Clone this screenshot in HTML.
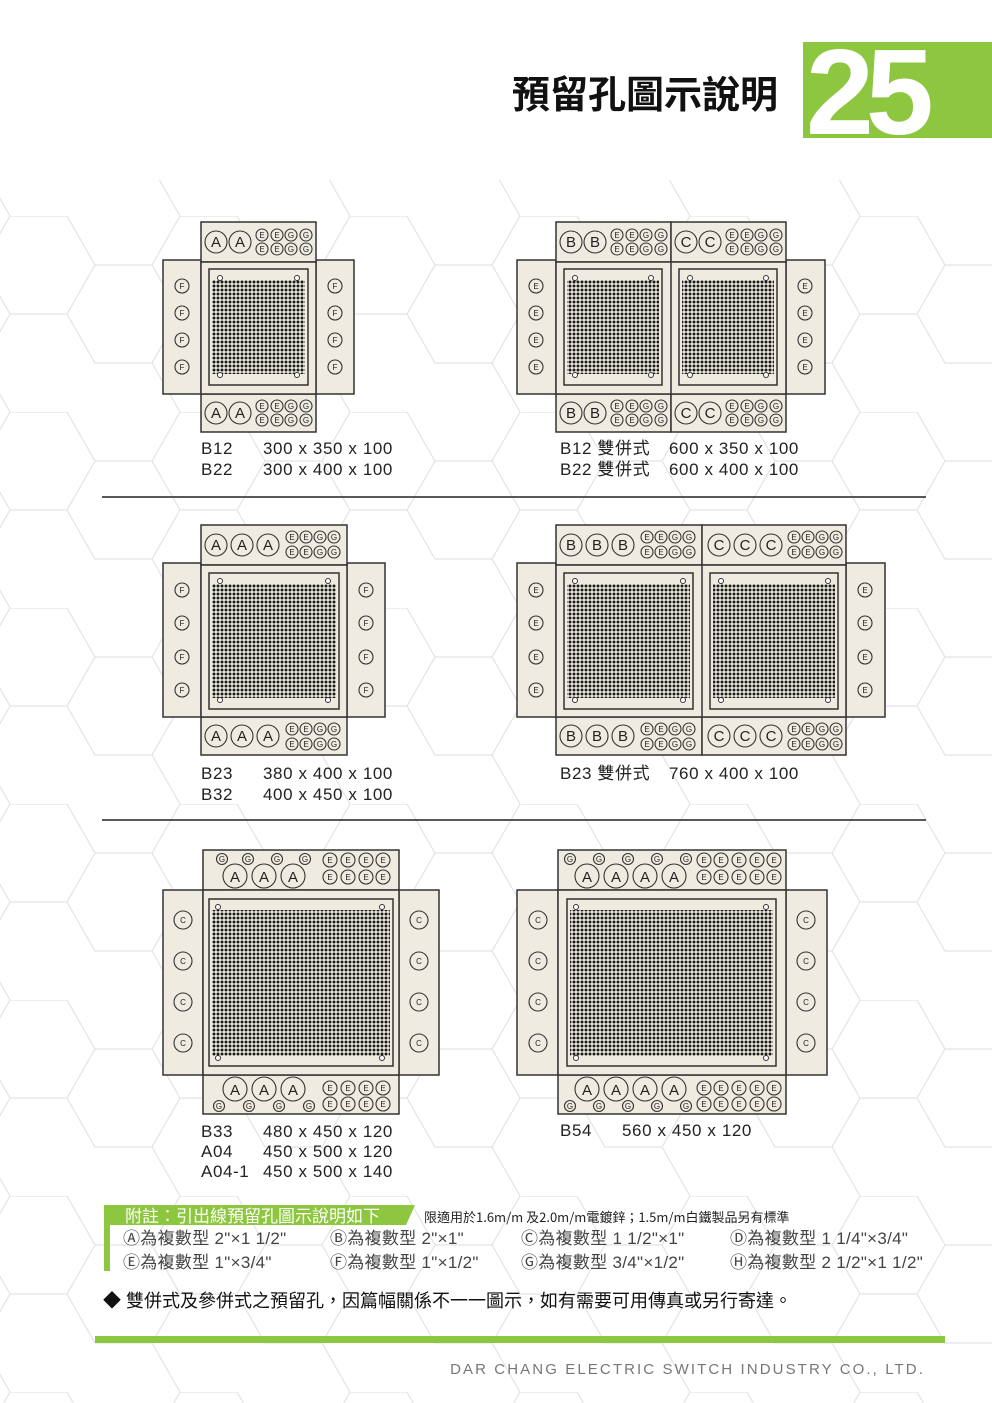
<!DOCTYPE html>
<html><head><meta charset="utf-8">
<style>
html,body{margin:0;padding:0;background:#fff}
body{width:992px;height:1403px;position:relative;overflow:hidden;font-family:"Liberation Sans","Noto Sans CJK TC",sans-serif}
svg{position:absolute;left:0;top:0}
.f{fill:#efebe0;stroke:#333;stroke-width:1.5}
.i{fill:none;stroke:#333;stroke-width:1.5}
.h{fill:#fff;stroke:#333;stroke-width:1}
.c{fill:#efebe0;stroke:#333;stroke-width:1.1}
.L{font-family:"Liberation Sans",sans-serif;font-size:15px;text-anchor:middle;fill:#222}
.m{font-family:"Liberation Sans",sans-serif;font-size:8px;text-anchor:middle;fill:#222}
.t{font-family:"Liberation Sans","Noto Sans CJK TC",sans-serif;font-size:17px;letter-spacing:0.6px;fill:#222}
.n{font-family:"Liberation Sans","Noto Sans CJK TC",sans-serif;font-size:17px;letter-spacing:0.3px;fill:#444}
</style></head><body>
<svg width="992" height="1403" viewBox="0 0 992 1403">
<defs>
<pattern id="hex" width="170" height="196" patternUnits="userSpaceOnUse" x="10" y="20">
<path d="M0 0 L57 0 L85 49 L57 98 L0 98 L-28 49 Z M85 49 L142 49 L170 98 L142 147 L85 147 L57 98 M142 49 L170 0 M142 147 L170 196 M57 98 L85 147 M0 98 L-28 147 L0 196" fill="none" stroke="#e3e3e3" stroke-width="1.2"/>
</pattern>
<pattern id="dots" width="4" height="4" patternUnits="userSpaceOnUse">
<circle cx="2" cy="2" r="1.5" fill="#1a1a1a"/>
</pattern>
</defs>
<rect width="992" height="1403" fill="url(#hex)"/>
<rect x="0" y="0" width="992" height="180" fill="#fff"/>
<!-- header -->
<text x="645" y="108" style="font-family:'Noto Sans CJK TC',sans-serif;font-size:38px;font-weight:bold;text-anchor:middle;fill:#111">預留孔圖示說明</text>
<rect x="803" y="42" width="189" height="96" fill="#8dc63f"/>
<text x="806" y="134" style="font-family:'Liberation Sans',sans-serif;font-size:122px;font-weight:bold;fill:#fff;letter-spacing:-8px">25</text>

<!-- ===== Diagram 1 ===== -->
<rect class="f" x="163" y="260" width="38" height="134"/>
<rect class="f" x="316" y="260" width="38" height="134"/>
<rect class="f" x="201" y="222" width="115" height="40"/>
<rect class="f" x="201" y="394" width="115" height="38"/>
<rect class="f" x="201" y="262" width="115" height="132"/>
<rect class="i" x="209" y="269" width="99" height="116"/>
<rect x="212" y="280" width="93" height="94" fill="url(#dots)"/>
<circle class="h" cx="220" cy="278" r="2.5"/><circle class="h" cx="297" cy="278" r="2.5"/><circle class="h" cx="220" cy="375" r="2.5"/><circle class="h" cx="297" cy="375" r="2.5"/>
<g>
<circle class="c" cx="216" cy="242" r="11"/><text class="L" x="216" y="247">A</text>
<circle class="c" cx="240" cy="242" r="11"/><text class="L" x="240" y="247">A</text>
<circle class="c" cx="262" cy="235" r="6"/><text class="m" x="262" y="238">E</text>
<circle class="c" cx="277" cy="235" r="6"/><text class="m" x="277" y="238">E</text>
<circle class="c" cx="291" cy="235" r="6"/><text class="m" x="291" y="238">G</text>
<circle class="c" cx="306" cy="235" r="6"/><text class="m" x="306" y="238">G</text>
<circle class="c" cx="262" cy="249" r="6"/><text class="m" x="262" y="252">E</text>
<circle class="c" cx="277" cy="249" r="6"/><text class="m" x="277" y="252">E</text>
<circle class="c" cx="291" cy="249" r="6"/><text class="m" x="291" y="252">G</text>
<circle class="c" cx="306" cy="249" r="6"/><text class="m" x="306" y="252">G</text>
</g>
<g>
<circle class="c" cx="216" cy="413" r="11"/><text class="L" x="216" y="418">A</text>
<circle class="c" cx="240" cy="413" r="11"/><text class="L" x="240" y="418">A</text>
<circle class="c" cx="262" cy="406" r="6"/><text class="m" x="262" y="409">E</text>
<circle class="c" cx="277" cy="406" r="6"/><text class="m" x="277" y="409">E</text>
<circle class="c" cx="291" cy="406" r="6"/><text class="m" x="291" y="409">G</text>
<circle class="c" cx="306" cy="406" r="6"/><text class="m" x="306" y="409">G</text>
<circle class="c" cx="262" cy="420" r="6"/><text class="m" x="262" y="423">E</text>
<circle class="c" cx="277" cy="420" r="6"/><text class="m" x="277" y="423">E</text>
<circle class="c" cx="291" cy="420" r="6"/><text class="m" x="291" y="423">G</text>
<circle class="c" cx="306" cy="420" r="6"/><text class="m" x="306" y="423">G</text>
</g>
<g>
<circle class="c" cx="182" cy="286" r="7"/><text class="m" x="182" y="289">F</text>
<circle class="c" cx="182" cy="313" r="7"/><text class="m" x="182" y="316">F</text>
<circle class="c" cx="182" cy="340" r="7"/><text class="m" x="182" y="343">F</text>
<circle class="c" cx="182" cy="367" r="7"/><text class="m" x="182" y="370">F</text>
<circle class="c" cx="335" cy="286" r="7"/><text class="m" x="335" y="289">F</text>
<circle class="c" cx="335" cy="313" r="7"/><text class="m" x="335" y="316">F</text>
<circle class="c" cx="335" cy="340" r="7"/><text class="m" x="335" y="343">F</text>
<circle class="c" cx="335" cy="367" r="7"/><text class="m" x="335" y="370">F</text>
</g>
<text class="t" x="201" y="454">B12</text><text class="t" x="263" y="454">300 x 350 x 100</text>
<text class="t" x="201" y="475">B22</text><text class="t" x="263" y="475">300 x 400 x 100</text>

<!-- ===== Diagram 2 ===== -->
<rect class="f" x="517" y="260" width="39" height="134"/>
<rect class="f" x="786" y="260" width="39" height="134"/>
<rect class="f" x="556" y="222" width="115" height="40"/>
<rect class="f" x="671" y="222" width="115" height="40"/>
<rect class="f" x="556" y="394" width="115" height="38"/>
<rect class="f" x="671" y="394" width="115" height="38"/>
<rect class="f" x="556" y="262" width="230" height="132"/>
<line x1="671" y1="262" x2="671" y2="394" stroke="#333" stroke-width="1.5"/>
<rect class="i" x="564" y="269" width="98" height="116"/>
<rect class="i" x="679" y="269" width="98" height="116"/>
<rect x="567" y="280" width="92" height="94" fill="url(#dots)"/>
<rect x="682" y="280" width="92" height="94" fill="url(#dots)"/>
<circle class="h" cx="575" cy="278" r="2.5"/><circle class="h" cx="651" cy="278" r="2.5"/><circle class="h" cx="575" cy="375" r="2.5"/><circle class="h" cx="651" cy="375" r="2.5"/>
<circle class="h" cx="690" cy="278" r="2.5"/><circle class="h" cx="766" cy="278" r="2.5"/><circle class="h" cx="690" cy="375" r="2.5"/><circle class="h" cx="766" cy="375" r="2.5"/>
<g>
<circle class="c" cx="571" cy="242" r="11"/><text class="L" x="571" y="247">B</text>
<circle class="c" cx="595" cy="242" r="11"/><text class="L" x="595" y="247">B</text>
<circle class="c" cx="617" cy="235" r="6"/><text class="m" x="617" y="238">E</text>
<circle class="c" cx="632" cy="235" r="6"/><text class="m" x="632" y="238">E</text>
<circle class="c" cx="646" cy="235" r="6"/><text class="m" x="646" y="238">G</text>
<circle class="c" cx="661" cy="235" r="6"/><text class="m" x="661" y="238">G</text>
<circle class="c" cx="617" cy="249" r="6"/><text class="m" x="617" y="252">E</text>
<circle class="c" cx="632" cy="249" r="6"/><text class="m" x="632" y="252">E</text>
<circle class="c" cx="646" cy="249" r="6"/><text class="m" x="646" y="252">G</text>
<circle class="c" cx="661" cy="249" r="6"/><text class="m" x="661" y="252">G</text>
<circle class="c" cx="686" cy="242" r="11"/><text class="L" x="686" y="247">C</text>
<circle class="c" cx="710" cy="242" r="11"/><text class="L" x="710" y="247">C</text>
<circle class="c" cx="732" cy="235" r="6"/><text class="m" x="732" y="238">E</text>
<circle class="c" cx="747" cy="235" r="6"/><text class="m" x="747" y="238">E</text>
<circle class="c" cx="761" cy="235" r="6"/><text class="m" x="761" y="238">G</text>
<circle class="c" cx="776" cy="235" r="6"/><text class="m" x="776" y="238">G</text>
<circle class="c" cx="732" cy="249" r="6"/><text class="m" x="732" y="252">E</text>
<circle class="c" cx="747" cy="249" r="6"/><text class="m" x="747" y="252">E</text>
<circle class="c" cx="761" cy="249" r="6"/><text class="m" x="761" y="252">G</text>
<circle class="c" cx="776" cy="249" r="6"/><text class="m" x="776" y="252">G</text>
</g>
<g>
<circle class="c" cx="571" cy="413" r="11"/><text class="L" x="571" y="418">B</text>
<circle class="c" cx="595" cy="413" r="11"/><text class="L" x="595" y="418">B</text>
<circle class="c" cx="617" cy="406" r="6"/><text class="m" x="617" y="409">E</text>
<circle class="c" cx="632" cy="406" r="6"/><text class="m" x="632" y="409">E</text>
<circle class="c" cx="646" cy="406" r="6"/><text class="m" x="646" y="409">G</text>
<circle class="c" cx="661" cy="406" r="6"/><text class="m" x="661" y="409">G</text>
<circle class="c" cx="617" cy="420" r="6"/><text class="m" x="617" y="423">E</text>
<circle class="c" cx="632" cy="420" r="6"/><text class="m" x="632" y="423">E</text>
<circle class="c" cx="646" cy="420" r="6"/><text class="m" x="646" y="423">G</text>
<circle class="c" cx="661" cy="420" r="6"/><text class="m" x="661" y="423">G</text>
<circle class="c" cx="686" cy="413" r="11"/><text class="L" x="686" y="418">C</text>
<circle class="c" cx="710" cy="413" r="11"/><text class="L" x="710" y="418">C</text>
<circle class="c" cx="732" cy="406" r="6"/><text class="m" x="732" y="409">E</text>
<circle class="c" cx="747" cy="406" r="6"/><text class="m" x="747" y="409">E</text>
<circle class="c" cx="761" cy="406" r="6"/><text class="m" x="761" y="409">G</text>
<circle class="c" cx="776" cy="406" r="6"/><text class="m" x="776" y="409">G</text>
<circle class="c" cx="732" cy="420" r="6"/><text class="m" x="732" y="423">E</text>
<circle class="c" cx="747" cy="420" r="6"/><text class="m" x="747" y="423">E</text>
<circle class="c" cx="761" cy="420" r="6"/><text class="m" x="761" y="423">G</text>
<circle class="c" cx="776" cy="420" r="6"/><text class="m" x="776" y="423">G</text>
</g>
<g>
<circle class="c" cx="536" cy="286" r="7"/><text class="m" x="536" y="289">E</text>
<circle class="c" cx="536" cy="313" r="7"/><text class="m" x="536" y="316">E</text>
<circle class="c" cx="536" cy="340" r="7"/><text class="m" x="536" y="343">E</text>
<circle class="c" cx="536" cy="367" r="7"/><text class="m" x="536" y="370">E</text>
<circle class="c" cx="805" cy="286" r="7"/><text class="m" x="805" y="289">E</text>
<circle class="c" cx="805" cy="313" r="7"/><text class="m" x="805" y="316">E</text>
<circle class="c" cx="805" cy="340" r="7"/><text class="m" x="805" y="343">E</text>
<circle class="c" cx="805" cy="367" r="7"/><text class="m" x="805" y="370">E</text>
</g>
<text class="t" x="560" y="454">B12 雙併式</text><text class="t" x="669" y="454">600 x 350 x 100</text>
<text class="t" x="560" y="475">B22 雙併式</text><text class="t" x="669" y="475">600 x 400 x 100</text>

<line x1="102" y1="497" x2="926" y2="497" stroke="#222" stroke-width="1.5"/>

<!-- ===== Diagram 3 ===== -->
<rect class="f" x="163" y="563" width="38" height="154"/>
<rect class="f" x="347" y="563" width="38" height="154"/>
<rect class="f" x="201" y="525" width="146" height="40"/>
<rect class="f" x="201" y="717" width="146" height="38"/>
<rect class="f" x="201" y="565" width="146" height="152"/>
<rect class="i" x="209" y="573" width="130" height="136"/>
<rect x="212" y="584" width="124" height="114" fill="url(#dots)"/>
<circle class="h" cx="220" cy="581" r="2.5"/><circle class="h" cx="328" cy="581" r="2.5"/><circle class="h" cx="220" cy="700" r="2.5"/><circle class="h" cx="328" cy="700" r="2.5"/>
<g>
<circle class="c" cx="216" cy="545" r="11"/><text class="L" x="216" y="550">A</text>
<circle class="c" cx="242" cy="545" r="11"/><text class="L" x="242" y="550">A</text>
<circle class="c" cx="268" cy="545" r="11"/><text class="L" x="268" y="550">A</text>
<circle class="c" cx="292" cy="537" r="6"/><text class="m" x="292" y="540">E</text>
<circle class="c" cx="306" cy="537" r="6"/><text class="m" x="306" y="540">E</text>
<circle class="c" cx="320" cy="537" r="6"/><text class="m" x="320" y="540">G</text>
<circle class="c" cx="334" cy="537" r="6"/><text class="m" x="334" y="540">G</text>
<circle class="c" cx="292" cy="552" r="6"/><text class="m" x="292" y="555">E</text>
<circle class="c" cx="306" cy="552" r="6"/><text class="m" x="306" y="555">E</text>
<circle class="c" cx="320" cy="552" r="6"/><text class="m" x="320" y="555">G</text>
<circle class="c" cx="334" cy="552" r="6"/><text class="m" x="334" y="555">G</text>
</g>
<g>
<circle class="c" cx="216" cy="736" r="11"/><text class="L" x="216" y="741">A</text>
<circle class="c" cx="242" cy="736" r="11"/><text class="L" x="242" y="741">A</text>
<circle class="c" cx="268" cy="736" r="11"/><text class="L" x="268" y="741">A</text>
<circle class="c" cx="292" cy="729" r="6"/><text class="m" x="292" y="732">E</text>
<circle class="c" cx="306" cy="729" r="6"/><text class="m" x="306" y="732">E</text>
<circle class="c" cx="320" cy="729" r="6"/><text class="m" x="320" y="732">G</text>
<circle class="c" cx="334" cy="729" r="6"/><text class="m" x="334" y="732">G</text>
<circle class="c" cx="292" cy="744" r="6"/><text class="m" x="292" y="747">E</text>
<circle class="c" cx="306" cy="744" r="6"/><text class="m" x="306" y="747">E</text>
<circle class="c" cx="320" cy="744" r="6"/><text class="m" x="320" y="747">G</text>
<circle class="c" cx="334" cy="744" r="6"/><text class="m" x="334" y="747">G</text>
</g>
<g>
<circle class="c" cx="182" cy="590" r="7"/><text class="m" x="182" y="593">F</text>
<circle class="c" cx="182" cy="623" r="7"/><text class="m" x="182" y="626">F</text>
<circle class="c" cx="182" cy="657" r="7"/><text class="m" x="182" y="660">F</text>
<circle class="c" cx="182" cy="690" r="7"/><text class="m" x="182" y="693">F</text>
<circle class="c" cx="366" cy="590" r="7"/><text class="m" x="366" y="593">F</text>
<circle class="c" cx="366" cy="623" r="7"/><text class="m" x="366" y="626">F</text>
<circle class="c" cx="366" cy="657" r="7"/><text class="m" x="366" y="660">F</text>
<circle class="c" cx="366" cy="690" r="7"/><text class="m" x="366" y="693">F</text>
</g>
<text class="t" x="201" y="779">B23</text><text class="t" x="263" y="779">380 x 400 x 100</text>
<text class="t" x="201" y="800">B32</text><text class="t" x="263" y="800">400 x 450 x 100</text>

<!-- ===== Diagram 4 ===== -->
<rect class="f" x="517" y="563" width="39" height="154"/>
<rect class="f" x="846" y="563" width="39" height="154"/>
<rect class="f" x="556" y="525" width="146" height="40"/>
<rect class="f" x="702" y="525" width="144" height="40"/>
<rect class="f" x="556" y="717" width="146" height="38"/>
<rect class="f" x="702" y="717" width="144" height="38"/>
<rect class="f" x="556" y="565" width="290" height="152"/>
<line x1="702" y1="565" x2="702" y2="717" stroke="#333" stroke-width="1.5"/>
<rect class="i" x="564" y="573" width="129" height="136"/>
<rect class="i" x="710" y="573" width="128" height="136"/>
<rect x="567" y="584" width="123" height="114" fill="url(#dots)"/>
<rect x="713" y="584" width="122" height="114" fill="url(#dots)"/>
<circle class="h" cx="575" cy="581" r="2.5"/><circle class="h" cx="683" cy="581" r="2.5"/><circle class="h" cx="575" cy="700" r="2.5"/><circle class="h" cx="683" cy="700" r="2.5"/>
<circle class="h" cx="721" cy="581" r="2.5"/><circle class="h" cx="828" cy="581" r="2.5"/><circle class="h" cx="721" cy="700" r="2.5"/><circle class="h" cx="828" cy="700" r="2.5"/>
<g>
<circle class="c" cx="571" cy="545" r="11"/><text class="L" x="571" y="550">B</text>
<circle class="c" cx="597" cy="545" r="11"/><text class="L" x="597" y="550">B</text>
<circle class="c" cx="623" cy="545" r="11"/><text class="L" x="623" y="550">B</text>
<circle class="c" cx="647" cy="537" r="6"/><text class="m" x="647" y="540">E</text>
<circle class="c" cx="661" cy="537" r="6"/><text class="m" x="661" y="540">E</text>
<circle class="c" cx="675" cy="537" r="6"/><text class="m" x="675" y="540">G</text>
<circle class="c" cx="689" cy="537" r="6"/><text class="m" x="689" y="540">G</text>
<circle class="c" cx="647" cy="552" r="6"/><text class="m" x="647" y="555">E</text>
<circle class="c" cx="661" cy="552" r="6"/><text class="m" x="661" y="555">E</text>
<circle class="c" cx="675" cy="552" r="6"/><text class="m" x="675" y="555">G</text>
<circle class="c" cx="689" cy="552" r="6"/><text class="m" x="689" y="555">G</text>
<circle class="c" cx="719" cy="545" r="11"/><text class="L" x="719" y="550">C</text>
<circle class="c" cx="745" cy="545" r="11"/><text class="L" x="745" y="550">C</text>
<circle class="c" cx="771" cy="545" r="11"/><text class="L" x="771" y="550">C</text>
<circle class="c" cx="794" cy="537" r="6"/><text class="m" x="794" y="540">E</text>
<circle class="c" cx="808" cy="537" r="6"/><text class="m" x="808" y="540">E</text>
<circle class="c" cx="822" cy="537" r="6"/><text class="m" x="822" y="540">G</text>
<circle class="c" cx="836" cy="537" r="6"/><text class="m" x="836" y="540">G</text>
<circle class="c" cx="794" cy="552" r="6"/><text class="m" x="794" y="555">E</text>
<circle class="c" cx="808" cy="552" r="6"/><text class="m" x="808" y="555">E</text>
<circle class="c" cx="822" cy="552" r="6"/><text class="m" x="822" y="555">G</text>
<circle class="c" cx="836" cy="552" r="6"/><text class="m" x="836" y="555">G</text>
</g>
<g>
<circle class="c" cx="571" cy="736" r="11"/><text class="L" x="571" y="741">B</text>
<circle class="c" cx="597" cy="736" r="11"/><text class="L" x="597" y="741">B</text>
<circle class="c" cx="623" cy="736" r="11"/><text class="L" x="623" y="741">B</text>
<circle class="c" cx="647" cy="729" r="6"/><text class="m" x="647" y="732">E</text>
<circle class="c" cx="661" cy="729" r="6"/><text class="m" x="661" y="732">E</text>
<circle class="c" cx="675" cy="729" r="6"/><text class="m" x="675" y="732">G</text>
<circle class="c" cx="689" cy="729" r="6"/><text class="m" x="689" y="732">G</text>
<circle class="c" cx="647" cy="744" r="6"/><text class="m" x="647" y="747">E</text>
<circle class="c" cx="661" cy="744" r="6"/><text class="m" x="661" y="747">E</text>
<circle class="c" cx="675" cy="744" r="6"/><text class="m" x="675" y="747">G</text>
<circle class="c" cx="689" cy="744" r="6"/><text class="m" x="689" y="747">G</text>
<circle class="c" cx="719" cy="736" r="11"/><text class="L" x="719" y="741">C</text>
<circle class="c" cx="745" cy="736" r="11"/><text class="L" x="745" y="741">C</text>
<circle class="c" cx="771" cy="736" r="11"/><text class="L" x="771" y="741">C</text>
<circle class="c" cx="794" cy="729" r="6"/><text class="m" x="794" y="732">E</text>
<circle class="c" cx="808" cy="729" r="6"/><text class="m" x="808" y="732">E</text>
<circle class="c" cx="822" cy="729" r="6"/><text class="m" x="822" y="732">G</text>
<circle class="c" cx="836" cy="729" r="6"/><text class="m" x="836" y="732">G</text>
<circle class="c" cx="794" cy="744" r="6"/><text class="m" x="794" y="747">E</text>
<circle class="c" cx="808" cy="744" r="6"/><text class="m" x="808" y="747">E</text>
<circle class="c" cx="822" cy="744" r="6"/><text class="m" x="822" y="747">G</text>
<circle class="c" cx="836" cy="744" r="6"/><text class="m" x="836" y="747">G</text>
</g>
<g>
<circle class="c" cx="536" cy="590" r="7"/><text class="m" x="536" y="593">E</text>
<circle class="c" cx="536" cy="623" r="7"/><text class="m" x="536" y="626">E</text>
<circle class="c" cx="536" cy="657" r="7"/><text class="m" x="536" y="660">E</text>
<circle class="c" cx="536" cy="690" r="7"/><text class="m" x="536" y="693">E</text>
<circle class="c" cx="865" cy="590" r="7"/><text class="m" x="865" y="593">E</text>
<circle class="c" cx="865" cy="623" r="7"/><text class="m" x="865" y="626">E</text>
<circle class="c" cx="865" cy="657" r="7"/><text class="m" x="865" y="660">E</text>
<circle class="c" cx="865" cy="690" r="7"/><text class="m" x="865" y="693">E</text>
</g>
<text class="t" x="560" y="779">B23 雙併式</text><text class="t" x="669" y="779">760 x 400 x 100</text>

<line x1="102" y1="820" x2="926" y2="820" stroke="#222" stroke-width="1.5"/>

<!-- ===== Diagram 5 ===== -->
<rect class="f" x="163" y="890" width="40" height="185"/>
<rect class="f" x="399" y="890" width="40" height="185"/>
<rect class="f" x="203" y="850" width="196" height="40"/>
<rect class="f" x="203" y="1075" width="196" height="39"/>
<rect class="f" x="203" y="890" width="196" height="185"/>
<rect class="i" x="209" y="899" width="184" height="167"/>
<rect x="212" y="910" width="178" height="146" fill="url(#dots)"/>
<circle class="h" cx="218" cy="907" r="2.5"/><circle class="h" cx="382" cy="907" r="2.5"/><circle class="h" cx="218" cy="1058" r="2.5"/><circle class="h" cx="382" cy="1058" r="2.5"/>
<g>
<circle class="c" cx="222" cy="859" r="5.5"/><text class="m" x="222" y="862">G</text>
<circle class="c" cx="248" cy="859" r="5.5"/><text class="m" x="248" y="862">G</text>
<circle class="c" cx="277" cy="859" r="5.5"/><text class="m" x="277" y="862">G</text>
<circle class="c" cx="305" cy="859" r="5.5"/><text class="m" x="305" y="862">G</text>
<circle class="c" cx="235" cy="876" r="12"/><text class="L" x="235" y="882">A</text>
<circle class="c" cx="264" cy="876" r="12"/><text class="L" x="264" y="882">A</text>
<circle class="c" cx="293" cy="876" r="12"/><text class="L" x="293" y="882">A</text>
<circle class="c" cx="330" cy="860" r="7"/><text class="m" x="330" y="863">E</text>
<circle class="c" cx="348" cy="860" r="7"/><text class="m" x="348" y="863">E</text>
<circle class="c" cx="366" cy="860" r="7"/><text class="m" x="366" y="863">E</text>
<circle class="c" cx="383" cy="860" r="7"/><text class="m" x="383" y="863">E</text>
<circle class="c" cx="330" cy="877" r="7"/><text class="m" x="330" y="880">E</text>
<circle class="c" cx="348" cy="877" r="7"/><text class="m" x="348" y="880">E</text>
<circle class="c" cx="366" cy="877" r="7"/><text class="m" x="366" y="880">E</text>
<circle class="c" cx="383" cy="877" r="7"/><text class="m" x="383" y="880">E</text>
</g>
<g>
<circle class="c" cx="235" cy="1089" r="12"/><text class="L" x="235" y="1095">A</text>
<circle class="c" cx="264" cy="1089" r="12"/><text class="L" x="264" y="1095">A</text>
<circle class="c" cx="293" cy="1089" r="12"/><text class="L" x="293" y="1095">A</text>
<circle class="c" cx="219" cy="1106" r="5.5"/><text class="m" x="219" y="1109">G</text>
<circle class="c" cx="249" cy="1106" r="5.5"/><text class="m" x="249" y="1109">G</text>
<circle class="c" cx="279" cy="1106" r="5.5"/><text class="m" x="279" y="1109">G</text>
<circle class="c" cx="309" cy="1106" r="5.5"/><text class="m" x="309" y="1109">G</text>
<circle class="c" cx="330" cy="1088" r="7"/><text class="m" x="330" y="1091">E</text>
<circle class="c" cx="348" cy="1088" r="7"/><text class="m" x="348" y="1091">E</text>
<circle class="c" cx="366" cy="1088" r="7"/><text class="m" x="366" y="1091">E</text>
<circle class="c" cx="383" cy="1088" r="7"/><text class="m" x="383" y="1091">E</text>
<circle class="c" cx="330" cy="1104" r="7"/><text class="m" x="330" y="1107">E</text>
<circle class="c" cx="348" cy="1104" r="7"/><text class="m" x="348" y="1107">E</text>
<circle class="c" cx="366" cy="1104" r="7"/><text class="m" x="366" y="1107">E</text>
<circle class="c" cx="383" cy="1104" r="7"/><text class="m" x="383" y="1107">E</text>
</g>
<g>
<circle class="c" cx="183" cy="920" r="9"/><text class="m" x="183" y="923">C</text>
<circle class="c" cx="183" cy="961" r="9"/><text class="m" x="183" y="964">C</text>
<circle class="c" cx="183" cy="1002" r="9"/><text class="m" x="183" y="1005">C</text>
<circle class="c" cx="183" cy="1043" r="9"/><text class="m" x="183" y="1046">C</text>
<circle class="c" cx="419" cy="920" r="9"/><text class="m" x="419" y="923">C</text>
<circle class="c" cx="419" cy="961" r="9"/><text class="m" x="419" y="964">C</text>
<circle class="c" cx="419" cy="1002" r="9"/><text class="m" x="419" y="1005">C</text>
<circle class="c" cx="419" cy="1043" r="9"/><text class="m" x="419" y="1046">C</text>
</g>
<text class="t" x="201" y="1137">B33</text><text class="t" x="263" y="1137">480 x 450 x 120</text>
<text class="t" x="201" y="1157">A04</text><text class="t" x="263" y="1157">450 x 500 x 120</text>
<text class="t" x="201" y="1177">A04-1</text><text class="t" x="263" y="1177">450 x 500 x 140</text>

<!-- ===== Diagram 6 ===== -->
<rect class="f" x="517" y="890" width="41" height="185"/>
<rect class="f" x="786" y="890" width="41" height="185"/>
<rect class="f" x="558" y="850" width="228" height="40"/>
<rect class="f" x="558" y="1075" width="228" height="39"/>
<rect class="f" x="558" y="890" width="228" height="185"/>
<rect class="i" x="567" y="899" width="209" height="167"/>
<rect x="570" y="910" width="203" height="146" fill="url(#dots)"/>
<circle class="h" cx="576" cy="907" r="2.5"/><circle class="h" cx="766" cy="907" r="2.5"/><circle class="h" cx="576" cy="1058" r="2.5"/><circle class="h" cx="766" cy="1058" r="2.5"/>
<g>
<circle class="c" cx="570" cy="859" r="5.5"/><text class="m" x="570" y="862">G</text>
<circle class="c" cx="599" cy="859" r="5.5"/><text class="m" x="599" y="862">G</text>
<circle class="c" cx="628" cy="859" r="5.5"/><text class="m" x="628" y="862">G</text>
<circle class="c" cx="657" cy="859" r="5.5"/><text class="m" x="657" y="862">G</text>
<circle class="c" cx="686" cy="859" r="5.5"/><text class="m" x="686" y="862">G</text>
<circle class="c" cx="587" cy="876" r="12"/><text class="L" x="587" y="882">A</text>
<circle class="c" cx="616" cy="876" r="12"/><text class="L" x="616" y="882">A</text>
<circle class="c" cx="645" cy="876" r="12"/><text class="L" x="645" y="882">A</text>
<circle class="c" cx="674" cy="876" r="12"/><text class="L" x="674" y="882">A</text>
<circle class="c" cx="704" cy="860" r="7"/><text class="m" x="704" y="863">E</text>
<circle class="c" cx="721" cy="860" r="7"/><text class="m" x="721" y="863">E</text>
<circle class="c" cx="739" cy="860" r="7"/><text class="m" x="739" y="863">E</text>
<circle class="c" cx="757" cy="860" r="7"/><text class="m" x="757" y="863">E</text>
<circle class="c" cx="774" cy="860" r="7"/><text class="m" x="774" y="863">E</text>
<circle class="c" cx="704" cy="877" r="7"/><text class="m" x="704" y="880">E</text>
<circle class="c" cx="721" cy="877" r="7"/><text class="m" x="721" y="880">E</text>
<circle class="c" cx="739" cy="877" r="7"/><text class="m" x="739" y="880">E</text>
<circle class="c" cx="757" cy="877" r="7"/><text class="m" x="757" y="880">E</text>
<circle class="c" cx="774" cy="877" r="7"/><text class="m" x="774" y="880">E</text>
</g>
<g>
<circle class="c" cx="587" cy="1089" r="12"/><text class="L" x="587" y="1095">A</text>
<circle class="c" cx="616" cy="1089" r="12"/><text class="L" x="616" y="1095">A</text>
<circle class="c" cx="645" cy="1089" r="12"/><text class="L" x="645" y="1095">A</text>
<circle class="c" cx="674" cy="1089" r="12"/><text class="L" x="674" y="1095">A</text>
<circle class="c" cx="570" cy="1106" r="5.5"/><text class="m" x="570" y="1109">G</text>
<circle class="c" cx="599" cy="1106" r="5.5"/><text class="m" x="599" y="1109">G</text>
<circle class="c" cx="628" cy="1106" r="5.5"/><text class="m" x="628" y="1109">G</text>
<circle class="c" cx="657" cy="1106" r="5.5"/><text class="m" x="657" y="1109">G</text>
<circle class="c" cx="686" cy="1106" r="5.5"/><text class="m" x="686" y="1109">G</text>
<circle class="c" cx="704" cy="1088" r="7"/><text class="m" x="704" y="1091">E</text>
<circle class="c" cx="721" cy="1088" r="7"/><text class="m" x="721" y="1091">E</text>
<circle class="c" cx="739" cy="1088" r="7"/><text class="m" x="739" y="1091">E</text>
<circle class="c" cx="757" cy="1088" r="7"/><text class="m" x="757" y="1091">E</text>
<circle class="c" cx="774" cy="1088" r="7"/><text class="m" x="774" y="1091">E</text>
<circle class="c" cx="704" cy="1104" r="7"/><text class="m" x="704" y="1107">E</text>
<circle class="c" cx="721" cy="1104" r="7"/><text class="m" x="721" y="1107">E</text>
<circle class="c" cx="739" cy="1104" r="7"/><text class="m" x="739" y="1107">E</text>
<circle class="c" cx="757" cy="1104" r="7"/><text class="m" x="757" y="1107">E</text>
<circle class="c" cx="774" cy="1104" r="7"/><text class="m" x="774" y="1107">E</text>
</g>
<g>
<circle class="c" cx="538" cy="920" r="9"/><text class="m" x="538" y="923">C</text>
<circle class="c" cx="538" cy="961" r="9"/><text class="m" x="538" y="964">C</text>
<circle class="c" cx="538" cy="1002" r="9"/><text class="m" x="538" y="1005">C</text>
<circle class="c" cx="538" cy="1043" r="9"/><text class="m" x="538" y="1046">C</text>
<circle class="c" cx="806" cy="920" r="9"/><text class="m" x="806" y="923">C</text>
<circle class="c" cx="806" cy="961" r="9"/><text class="m" x="806" y="964">C</text>
<circle class="c" cx="806" cy="1002" r="9"/><text class="m" x="806" y="1005">C</text>
<circle class="c" cx="806" cy="1043" r="9"/><text class="m" x="806" y="1046">C</text>
</g>
<text class="t" x="560" y="1136">B54</text><text class="t" x="622" y="1136">560 x 450 x 120</text>

<!-- notes -->
<path d="M104 1205 L415 1205 L406 1225 L110 1225 L110 1271 L104 1271 Z" fill="#8dc63f"/>
<text x="125" y="1222" style="font-family:'Noto Sans CJK TC',sans-serif;font-size:17px;fill:#fff">附註：引出線預留孔圖示說明如下</text>
<text x="424" y="1222" style="font-family:'Noto Sans CJK TC',sans-serif;font-size:13px;fill:#222">限適用於1.6m/m 及2.0m/m電鍍鋅；1.5m/m白鐵製品另有標準</text>
<text class="n" x="123" y="1244">Ⓐ為複數型 2"×1 1/2"</text>
<text class="n" x="330" y="1244">Ⓑ為複數型 2"×1"</text>
<text class="n" x="521" y="1244">Ⓒ為複數型 1 1/2"×1"</text>
<text class="n" x="730" y="1244">Ⓓ為複數型 1 1/4"×3/4"</text>
<text class="n" x="123" y="1268">Ⓔ為複數型 1"×3/4"</text>
<text class="n" x="330" y="1268">Ⓕ為複數型 1"×1/2"</text>
<text class="n" x="521" y="1268">Ⓖ為複數型 3/4"×1/2"</text>
<text class="n" x="730" y="1268">Ⓗ為複數型 2 1/2"×1 1/2"</text>
<text x="103" y="1307" style="font-family:'Liberation Sans','Noto Sans CJK TC',sans-serif;font-size:18px;fill:#111">◆ 雙併式及參併式之預留孔，因篇幅關係不一一圖示，如有需要可用傳真或另行寄達。</text>

<rect x="95" y="1336" width="850" height="7" fill="#8dc63f"/>
<text x="925" y="1374" style="font-family:'Liberation Sans',sans-serif;font-size:15px;fill:#777;text-anchor:end;letter-spacing:2.1px">DAR CHANG ELECTRIC SWITCH INDUSTRY CO., LTD.</text>
</svg>
</body></html>
